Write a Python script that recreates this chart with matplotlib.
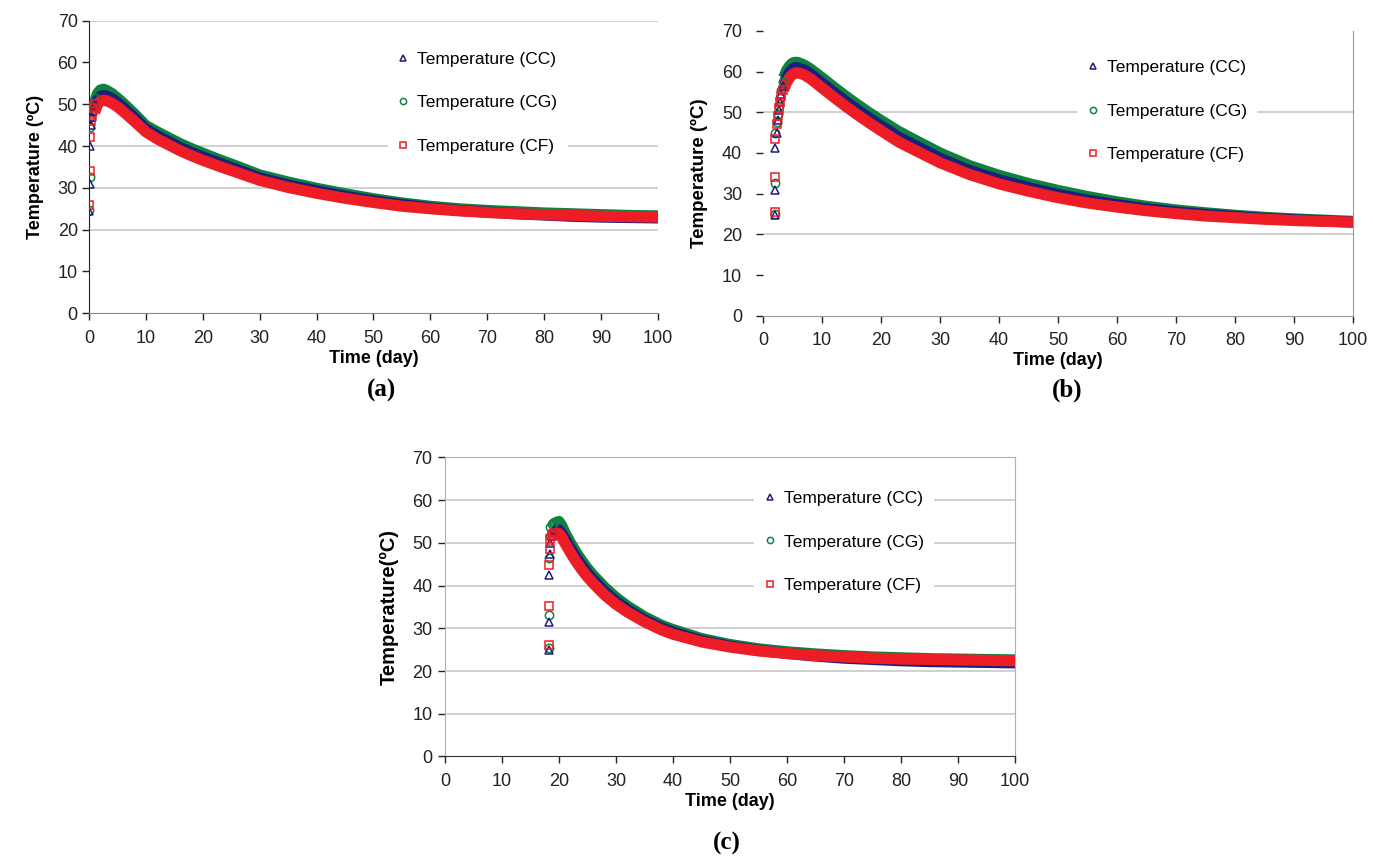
import matplotlib
matplotlib.use("Agg")
import matplotlib.pyplot as plt

plt.rcParams['font.family'] = ['Liberation Sans', 'DejaVu Sans']

NAVY = '#1c1f7c'
GREEN = '#10813f'
RED = '#ee1c25'

labels = ['Temperature (CC)', 'Temperature (CG)', 'Temperature (CF)']

# ---- panel (a) ----
ramp_x_a = [0.0, 0.1, 0.2, 0.3, 0.5, 0.7, 1.0]
ramp_cc_a = [24.5, 31.0, 40.0, 45.0, 47.0, 48.5, 50.0]
ramp_cg_a = [24.8, 32.5, 44.5, 47.0, 48.5, 50.0, 51.5]
ramp_cf_a = [25.8, 34.0, 42.2, 46.0, 47.5, 49.0, 50.0]

days_a = [1, 1.5, 2, 2.5, 3, 4, 5, 6, 7, 8, 10, 12, 14, 16, 18, 20, 23, 26, 30,
          35, 40, 45, 50, 55, 60, 65, 70, 75, 80, 85, 90, 95, 100]
cg_a = [50.5, 52.6, 53.4, 53.6, 53.4, 52.6, 51.5, 50.3, 49.0, 47.7, 44.9, 43.4,
        42.0, 40.6, 39.4, 38.3, 36.7, 35.2, 33.1, 31.4, 29.9, 28.6, 27.4, 26.4,
        25.6, 25.0, 24.6, 24.3, 24.0, 23.8, 23.6, 23.4, 23.3]
cc_a = [49.0, 51.0, 51.9, 52.1, 52.0, 51.4, 50.4, 49.3, 48.0, 46.8, 44.1, 42.5,
        41.1, 39.7, 38.5, 37.4, 35.9, 34.4, 32.4, 30.7, 29.3, 28.0, 26.9, 26.0,
        25.2, 24.6, 24.2, 23.8, 23.5, 23.2, 23.0, 22.9, 22.8]
cf_a = [48.0, 50.0, 50.8, 51.0, 50.9, 50.3, 49.4, 48.3, 47.1, 45.9, 43.4, 41.7,
        40.3, 38.9, 37.7, 36.6, 35.1, 33.7, 31.8, 30.1, 28.7, 27.5, 26.5, 25.6,
        25.0, 24.5, 24.1, 23.8, 23.6, 23.4, 23.2, 23.1, 23.0]

# ---- panel (b) ----
ramp_x_b = [2.0, 2.0, 2.1, 2.3, 2.5, 2.7, 2.9, 3.1, 3.4]
ramp_cc_b = [24.8, 30.8, 41.2, 45.0, 48.0, 50.5, 52.5, 54.5, 56.5]
ramp_cg_b = [25.0, 32.5, 45.0, 47.5, 49.5, 51.5, 53.5, 55.5, 57.5]
ramp_cf_b = [25.5, 34.0, 43.5, 47.0, 49.0, 51.0, 52.5, 54.0, 55.5]

days_b = [3.5, 4, 4.5, 5, 5.5, 6, 7, 8, 10, 12, 14, 16, 18, 20, 23, 26, 30, 35,
          40, 45, 50, 55, 60, 65, 70, 75, 80, 85, 90, 95, 100]
cg_b = [58.5, 60.3, 61.4, 62.1, 62.3, 62.2, 61.6, 60.7, 58.5, 56.2, 54.0, 51.9,
        49.9, 48.0, 45.3, 43.0, 40.0, 36.9, 34.5, 32.5, 30.8, 29.3, 28.0, 26.9,
        26.0, 25.3, 24.7, 24.2, 23.8, 23.5, 23.2]
cc_b = [56.8, 58.6, 59.8, 60.6, 61.0, 60.9, 60.4, 59.5, 57.2, 54.9, 52.7, 50.6,
        48.6, 46.7, 43.9, 41.7, 38.7, 35.7, 33.4, 31.5, 29.8, 28.4, 27.3, 26.3,
        25.5, 24.9, 24.4, 23.9, 23.6, 23.3, 23.0]
cf_b = [55.5, 57.3, 58.5, 59.3, 59.7, 59.7, 59.2, 58.3, 56.0, 53.7, 51.5, 49.4,
        47.4, 45.5, 42.7, 40.5, 37.6, 34.7, 32.4, 30.6, 29.0, 27.7, 26.7, 25.8,
        25.1, 24.5, 24.1, 23.7, 23.4, 23.2, 23.0]

# ---- panel (c) ----
ramp_x_c = [18.2, 18.2, 18.3, 18.4, 18.5, 18.7, 18.9, 19.1]
ramp_cc_c = [25.0, 31.5, 42.4, 47.3, 50.0, 51.5, 52.5, 53.0]
ramp_cg_c = [25.5, 33.0, 46.5, 51.5, 53.8, 54.3, 54.6, 54.8]
ramp_cf_c = [26.0, 35.2, 44.8, 48.5, 50.8, 51.5, 52.0, 52.2]

days_c = [19.3, 19.6, 20, 20.5, 21, 22, 23, 24, 25, 26, 28, 30, 32, 35, 38, 40,
          45, 50, 55, 60, 65, 70, 75, 80, 85, 90, 95, 100]
cg_c = [54.2, 54.8, 55.0, 54.0, 52.5, 50.0, 47.8, 45.8, 44.0, 42.4, 39.6, 37.2,
        35.2, 32.7, 30.7, 29.7, 27.6, 26.2, 25.2, 24.5, 24.0, 23.6, 23.3, 23.1,
        22.9, 22.8, 22.7, 22.6]
cc_c = [53.0, 53.2, 53.0, 52.2, 51.0, 48.7, 46.6, 44.7, 42.9, 41.4, 38.6, 36.3,
        34.4, 32.0, 30.1, 29.1, 27.1, 25.8, 24.8, 24.1, 23.5, 23.0, 22.7, 22.4,
        22.2, 22.1, 22.0, 21.9]
cf_c = [52.0, 52.3, 52.2, 51.3, 50.0, 47.7, 45.6, 43.7, 42.0, 40.5, 37.8, 35.6,
        33.8, 31.5, 29.6, 28.6, 26.8, 25.6, 24.7, 24.1, 23.6, 23.3, 23.0, 22.8,
        22.7, 22.6, 22.5, 22.4]

xticks = list(range(0, 101, 10))
yticks = list(range(0, 71, 10))

fig = plt.figure(figsize=(13.73, 8.58), dpi=100)


def draw_panel(rect, ramp_x, ramps, days, curves, grid_vals, ylabel, ylab_size,
               leg_anchor, ytick_pad):
    ax = fig.add_axes(rect)
    ax.set_xlim(0, 100)
    ax.set_ylim(0, 70)
    for g in grid_vals:
        ax.axhline(g, color='#c8c8c8', lw=1.2, zorder=0)

    markers = ['^', 'o', 's']
    colors = [NAVY, GREEN, RED]
    # drawing order: CG, CC, CF (CF on top)
    for i in [1, 0, 2]:
        ax.plot(days, curves[i], color=colors[i], lw=8, solid_capstyle='butt',
                zorder=2 + (i == 2))
        ax.plot(ramp_x, ramps[i], ls='none', marker=markers[i], ms=6,
                mfc='none', mec=colors[i], mew=1.1, label=labels[i], zorder=4)

    ax.set_xticks(xticks)
    ax.set_yticks(yticks)
    ax.tick_params(axis='both', labelsize=13, colors='#222222', length=5,
                   width=1, direction='out')
    ax.tick_params(axis='y', pad=ytick_pad)
    ax.tick_params(axis='x', pad=7)
    ax.set_xlabel('Time (day)', fontsize=13, fontweight='bold', labelpad=2)
    ax.set_ylabel(ylabel, fontsize=ylab_size, fontweight='bold', labelpad=10)

    h, l = ax.get_legend_handles_labels()
    order = [l.index(t) for t in labels]
    leg = ax.legend([h[k] for k in order], [l[k] for k in order],
                    loc='center left', bbox_to_anchor=leg_anchor,
                    fontsize=12.5, frameon=True, facecolor='white',
                    edgecolor='none', framealpha=1, handlelength=0.6,
                    handletextpad=0.5, labelspacing=1.65, borderpad=0.6,
                    markerscale=0.75, fancybox=False)
    leg.set_zorder(5)
    return ax


# (a)
ax_a = draw_panel([0.0648, 0.6349, 0.4144, 0.341], ramp_x_a,
                  [ramp_cc_a, ramp_cg_a, ramp_cf_a], days_a, [cc_a, cg_a, cf_a],
                  [20, 30, 40, 70], 'Temperature (ºC)', 13, (0.51, 0.719), 3)
ax_a.spines['top'].set_visible(False)
ax_a.spines['right'].set_visible(False)
ax_a.spines['left'].set_color('#222222')
ax_a.spines['bottom'].set_color('#888888')

# (b)
ax_b = draw_panel([0.5557, 0.632, 0.4297, 0.332], ramp_x_b,
                  [ramp_cc_b, ramp_cg_b, ramp_cf_b], days_b, [cc_b, cg_b, cf_b],
                  [20, 50], 'Temperature (ºC)', 13.5, (0.518, 0.7185), 10)
ax_b.spines['top'].set_visible(False)
ax_b.spines['left'].set_visible(False)
ax_b.spines['right'].set_color('#999999')
ax_b.spines['bottom'].set_color('#999999')

# (c)
ax_c = draw_panel([0.3241, 0.1183, 0.4152, 0.3487], ramp_x_c,
                  [ramp_cc_c, ramp_cg_c, ramp_cf_c], days_c, [cc_c, cg_c, cf_c],
                  [10, 20, 30, 40, 50, 60], 'Temperature(ºC)', 14.5,
                  (0.527, 0.717), 4)
for s in ['top', 'right', 'left']:
    ax_c.spines[s].set_color('#b0b0b0')
ax_c.spines['bottom'].set_color('#333333')

fig.text(381 / 1373, 1 - 390 / 858, '(a)', family='Liberation Serif',
         fontweight='bold', fontsize=18, ha='center', va='center')
fig.text(1067 / 1373, 1 - 390 / 858, '(b)', family='Liberation Serif',
         fontweight='bold', fontsize=18, ha='center', va='center')
fig.text(727 / 1373, 1 - 843 / 858, '(c)', family='Liberation Serif',
         fontweight='bold', fontsize=18, ha='center', va='center')

fig.savefig('out.png', dpi=100)
